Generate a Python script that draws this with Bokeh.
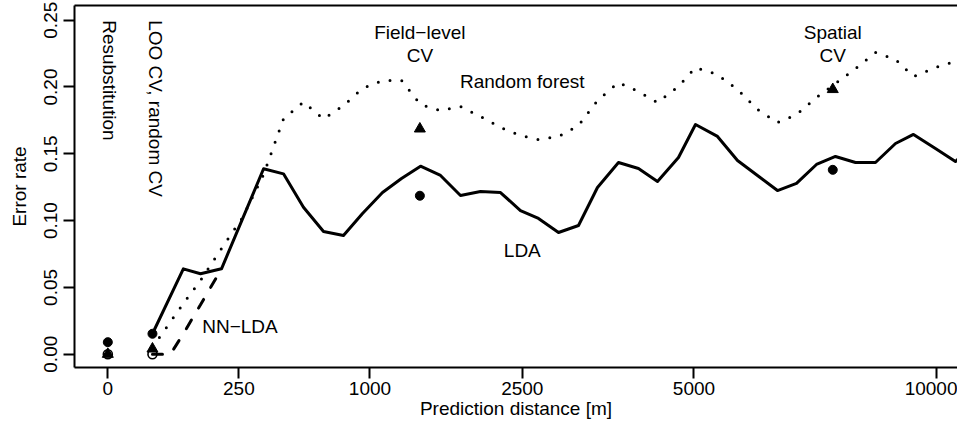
import numpy as np
from bokeh.plotting import figure
from bokeh.models import FixedTicker, LinearAxis, Range1d, CustomJSTickFormatter, PrintfTickFormatter
from bokeh.embed import file_html
from bokeh.resources import INLINE
from bokeh.core.properties import value

# ---------------- data ----------------
distance_m = [29, 83, 125, 188, 264, 353, 449, 557, 677, 808, 944, 1098, 1255, 1423,
              1611, 1810, 2021, 2244, 2478, 2699, 2956, 3224, 3489, 3795, 4098, 4397,
              4739, 5026, 5409, 5770, 6142, 6526, 6902, 7308, 7705, 8135, 8576, 9029,
              9446, 9968, 10455, 10955]
lda_error = [0.0153, 0.0639, 0.0602, 0.0639, 0.1013, 0.1388, 0.1350, 0.1100, 0.0918,
             0.0888, 0.1053, 0.1210, 0.1315, 0.1407, 0.1338, 0.1188, 0.1218, 0.1210,
             0.1075, 0.1016, 0.0911, 0.0963, 0.1248, 0.1435, 0.1390, 0.1293, 0.1472,
             0.1719, 0.1630, 0.1450, 0.1338, 0.1225, 0.1278, 0.1420, 0.1480, 0.1435,
             0.1435, 0.1577, 0.1645, 0.1540, 0.1442, 0.1577]
rf_error = [0.0052, 0.0379, 0.0552, 0.0791, 0.1023, 0.1345, 0.1761, 0.1888, 0.1761,
            0.1861, 0.1989, 0.2049, 0.2049, 0.1869, 0.1824, 0.1854, 0.1779, 0.1697,
            0.1637, 0.1607, 0.1629, 0.1712, 0.1899, 0.2034, 0.1966, 0.1884, 0.2004,
            0.2146, 0.2093, 0.1981, 0.1832, 0.1734, 0.1794, 0.1921, 0.2026, 0.2138,
            0.2258, 0.2206, 0.2078, 0.2146, 0.2193, 0.2223]
nnlda_distance_m = [29, 57, 83, 125, 188]
nnlda_error = [0.0, 0.0, 0.0153, 0.0370, 0.0639]

# CV estimates: resubstitution, LOO CV, field-level CV, spatial CV
cv_distance_m = [0, 29, 1417, 7648]
cv_lda = [0.0090, 0.0153, 0.1186, 0.1380]
cv_rf = [0.0, 0.0040, 0.1687, 0.1982]
cv_nnlda_distance_m = [0, 29]
cv_nnlda = [0.0, 0.0]

x_tick_values = [0, 250, 1000, 2500, 5000, 10000]
y_tick_values = [0.0, 0.05, 0.10, 0.15, 0.20, 0.25]

FONT = "Liberation Sans"
FS = "19px"

def tr(d):
    return np.sqrt(np.asarray(d, dtype=float))

p = figure(width=957, height=424, output_backend="svg", toolbar_location=None,
           x_range=Range1d(-4.02, 102.5), y_range=Range1d(-0.00996, 0.2610),
           min_border_left=74, min_border_right=0, min_border_top=5, min_border_bottom=57,
           x_axis_label="Prediction distance [m]", y_axis_label="Error rate")
p.outline_line_color = None
p.xgrid.visible = False
p.ygrid.visible = False
p.background_fill_color = "white"
p.border_fill_color = "white"

p.xaxis.ticker = FixedTicker(ticks=list(tr(x_tick_values)))
p.xaxis.formatter = CustomJSTickFormatter(code="return String(Math.round(tick*tick));")
p.yaxis.ticker = FixedTicker(ticks=y_tick_values)
p.yaxis.formatter = PrintfTickFormatter(format="%.2f")
p.yaxis.major_label_orientation = "vertical"

for ax in (p.xaxis[0], p.yaxis[0]):
    ax.axis_line_width = 2
    ax.axis_line_color = "black"
    ax.major_tick_line_width = 2
    ax.major_tick_line_color = "black"
    ax.major_tick_out = 11
    ax.major_tick_in = 0
    ax.minor_tick_out = 0
    ax.minor_tick_in = 0
    ax.major_label_text_font = FONT
    ax.major_label_text_font_size = FS
    ax.major_label_text_color = "black"
    ax.axis_label_text_font = FONT
    ax.axis_label_text_font_size = FS
    ax.axis_label_text_font_style = "normal"
    ax.axis_label_text_color = "black"
p.xaxis.major_label_standoff = 3
p.xaxis.axis_label_standoff = 0
p.yaxis.major_label_standoff = 6
p.yaxis.axis_label_standoff = 12

top = LinearAxis(ticker=FixedTicker(ticks=[]), axis_line_width=2, axis_line_color="black",
                 major_tick_out=0, major_tick_in=0, minor_tick_out=0, minor_tick_in=0,
                 major_label_standoff=0, major_label_text_font_size="0px")
p.add_layout(top, "above")

# curves
p.line(tr(nnlda_distance_m), nnlda_error, line_color="black", line_width=3,
       line_dash="10 14", line_cap="round")
p.line(tr(distance_m), rf_error, line_color="black", line_width=3,
       line_dash="0 12", line_cap="round", line_join="round")
p.line(tr(distance_m), lda_error, line_color="black", line_width=3, line_join="round")

# points
p.scatter(tr(cv_distance_m), cv_lda, marker="circle", size=9, color="black")
p.scatter(tr(cv_distance_m), cv_rf, marker="triangle", size=11, color="black")
p.scatter(tr(cv_nnlda_distance_m), cv_nnlda, marker="circle", size=9,
          fill_color=None, line_color="black", line_width=1.6)

# labels
common = dict(text_font=value(FONT), text_font_size=value(FS), text_color="black")
p.text(x=[tr(0)], y=[0.25], text=["Resubstitution"], angle=-np.pi/2, x_offset=2,
       text_align="left", text_baseline="middle", **common)
p.text(x=[tr(29)], y=[0.25], text=["LOO CV, random CV"], angle=-np.pi/2, x_offset=3,
       text_align="left", text_baseline="middle", **common)
p.text(x=list(tr([1417, 1417, 7648, 7648])), y=[0.241, 0.2236, 0.241, 0.2236],
       text=["Field\u2212level", "CV", "Spatial", "CV"],
       text_align="center", text_baseline="middle", **common)
p.text(x=list(tr([2500, 2500, 254])), y=[0.2041, 0.0776, 0.0207],
       text=["Random forest", "LDA", "NN\u2212LDA"],
       text_align="center", text_baseline="middle", **common)

open("out.html", "w").write(file_html(p, INLINE))
